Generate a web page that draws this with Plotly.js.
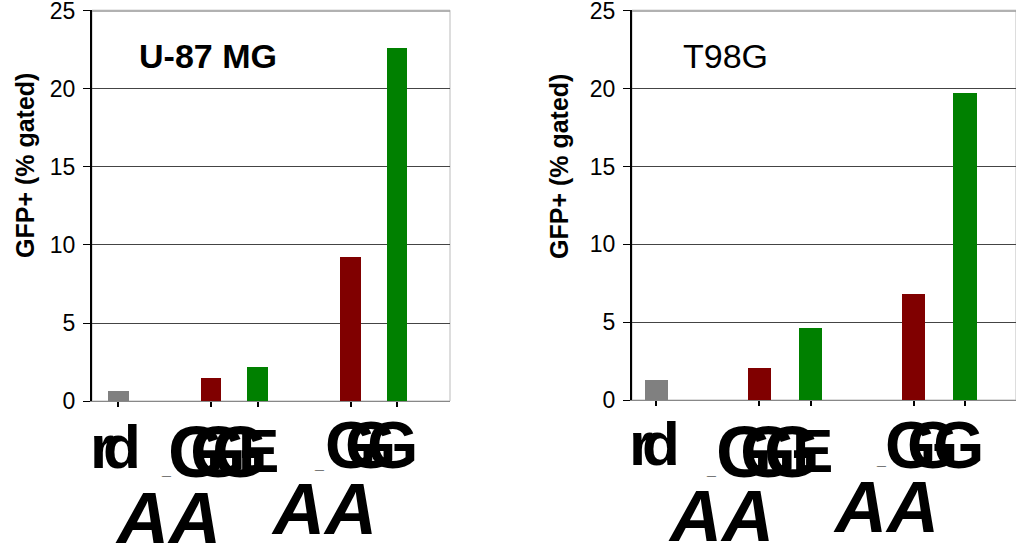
<!DOCTYPE html>
<html>
<head>
<meta charset="utf-8">
<script src="https://cdn.plot.ly/plotly-3.0.1.min.js"></script>
<style>html,body{margin:0;padding:0;background:#fff;}#chart{width:1016px;height:550px;}</style>
</head>
<body>
<div id="chart"></div>
<script>
// ---- data ----
const categories = ["rd", "CGE-A", "CGE-B", "GG-A", "GG-B"];
const slotOrder = ["rd", " ", "CGE-A", "CGE-B", "  ", "GG-A", "GG-B"];
const barColors = ["#808080", "#800000", "#008000", "#800000", "#008000"];
const u87Values = [0.66, 1.47, 2.18, 9.23, 22.6];
const t98gValues = [1.29, 2.04, 4.6, 6.81, 19.7];
const panelTitles = ["U-87 MG", "T98G"];
const yTitle = "GFP+ (% gated)";
const yTicks = [0, 5, 10, 15, 20, 25];
const garbledRow1 = ["r", "d", "G", "E", "A"];

// ---- layout helpers ----
const W = 1016, H = 550;
const px = x => x / W;
const py = y => 1 - y / H;
const font = "Liberation Sans, Arial, sans-serif";

function barTrace(vals, xa, ya) {
  return {
    type: "bar", x: categories, y: vals, xaxis: xa, yaxis: ya,
    width: 0.45,
    marker: { color: barColors, line: { width: 0 } },
    hoverinfo: "x+y", showlegend: false
  };
}

function yaxis(bottom) {
  return {
    domain: [py(bottom), py(10.2)],
    range: [0, 25.05], tickvals: yTicks, ticks: "outside", ticklen: 7, tickcolor: "#000",
    tickfont: { family: font, size: 23, color: "#000" }, ticklabelstandoff: 3,
    ticklabeloverflow: "allow",
    showgrid: true, gridcolor: "#444", gridwidth: 1,
    showline: true, linecolor: "#000", linewidth: 2, zeroline: false,
    fixedrange: true
  };
}
function xaxis(dom, range, anchor) {
  return {
    domain: dom, type: "category", categoryorder: "array", categoryarray: slotOrder,
    range: range, tickvals: categories, showticklabels: false,
    ticks: "outside", ticklen: 5, tickcolor: "#000", tickwidth: 2,
    showline: true, linecolor: "#888", linewidth: 1, showgrid: false, zeroline: false,
    anchor: anchor, fixedrange: true
  };
}

const annotations = [];
function addText(text, x, y, opts) {
  annotations.push(Object.assign({
    text: text, xref: "paper", yref: "paper", x: px(x), y: py(y),
    xanchor: "center", yanchor: "middle", showarrow: false,
    font: { family: font, size: 20, color: "#000" }
  }, opts || {}));
}

// panel titles
addText("<b>" + panelTitles[0] + "</b>", 208, 56, { font: { family: font, size: 34, color: "#000" } });
addText(panelTitles[1], 725, 56, { font: { family: font, size: 34, color: "#000" } });
// y titles
addText("<b>" + yTitle + "</b>", 25, 166, { textangle: -90, font: { family: font, size: 25, color: "#000" } });
addText("<b>" + yTitle + "</b>", 559, 167, { textangle: -90, font: { family: font, size: 25, color: "#000" } });

// garbled, overlapping category labels (as in reference)
const big = s => ({ family: font, size: s, color: "#000" });
const pan = [
  { r: 102, d: 122, y1: 446, blob1: [196, 218, 240], e1: 258, yb1: 452, dash1: [166, 477], dash2: [319, 471],
    blob2: [350, 370, 392], yb2: 445, a1: 168, ya1: 518, a2: 324, ya2: 509 },
  { r: 641, d: 661, y1: 443, blob1: [744, 768, 792], e1: 812, yb1: 452, dash1: [711, 477], dash2: [881, 468],
    blob2: [910, 932, 958], yb2: 445, a1: 721, ya1: 516, a2: 886, ya2: 507 }
];
pan.forEach(p => {
  addText("<b>" + garbledRow1[0] + "</b>", p.r, p.y1, { font: big(62) });
  addText("<b>" + garbledRow1[1] + "</b>", p.d, p.y1, { font: big(62) });
  p.blob1.forEach(x => addText("<b>" + garbledRow1[2] + "</b>", x, p.yb1, { font: big(72) }));
  addText("<b>" + garbledRow1[3] + "</b>", p.e1, p.yb1 - 2, { font: big(62) });
  p.blob2.forEach(x => addText("<b>" + garbledRow1[2] + "</b>", x, p.yb2, { font: big(66) }));
  addText("<b>_</b>", p.dash1[0], p.dash1[1] - 8, { font: big(16) });
  addText("<b>_</b>", p.dash2[0], p.dash2[1] - 8, { font: big(16) });
  addText("<b><i>" + garbledRow1[4] + garbledRow1[4] + "</i></b>", p.a1, p.ya1, { font: big(72) });
  addText("<b><i>" + garbledRow1[4] + garbledRow1[4] + "</i></b>", p.a2, p.ya2, { font: big(72) });
});

const shapes = [
  { type: "rect", xref: "x domain", yref: "y domain", x0: 0, x1: 1, y0: 0, y1: 1, line: { color: "#bbb", width: 1 }, layer: "below" },
  { type: "rect", xref: "x2 domain", yref: "y2 domain", x0: 0, x1: 1, y0: 0, y1: 1, line: { color: "#bbb", width: 1 }, layer: "below" },
  { type: "line", xref: "x domain", yref: "y", x0: 0, x1: 1, y0: 25, y1: 25, line: { color: "#999", width: 1.5 }, layer: "above" },
  { type: "line", xref: "x2 domain", yref: "y2", x0: 0, x1: 1, y0: 25, y1: 25, line: { color: "#999", width: 1.5 }, layer: "above" }
];

const layout = {
  width: W, height: H, margin: { l: 0, r: 0, t: 0, b: 0 },
  paper_bgcolor: "#fff", plot_bgcolor: "#fff",
  font: { family: font, color: "#000" },
  showlegend: false, bargap: 0,
  xaxis: xaxis([px(92), px(450)], [-0.56, 7.14], "y"),
  yaxis: Object.assign(yaxis(401), { anchor: "x" }),
  xaxis2: xaxis([px(632), 1], [-0.47, 6.99], "y2"),
  yaxis2: Object.assign(yaxis(400), { anchor: "x2" }),
  annotations: annotations, shapes: shapes
};

Plotly.newPlot("chart", [barTrace(u87Values, "x", "y"), barTrace(t98gValues, "x2", "y2")], layout, { displayModeBar: false, staticPlot: true });
</script>
</body>
</html>
